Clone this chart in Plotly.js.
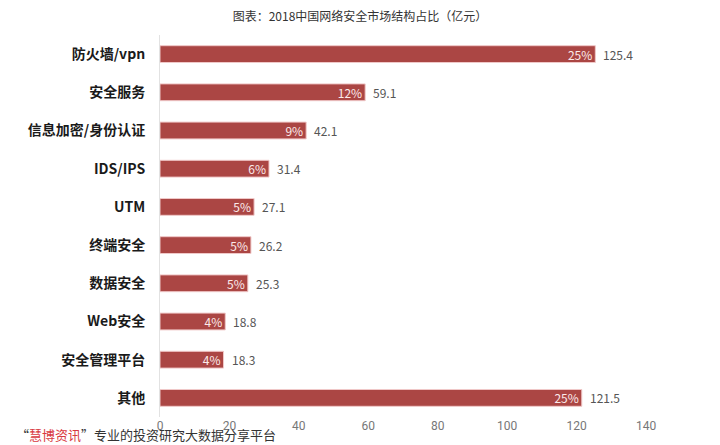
<!DOCTYPE html>
<html>
<head>
<meta charset="utf-8">
<script src="https://cdn.plot.ly/plotly-3.0.1.min.js"></script>
<style>
  html, body { margin: 0; padding: 0; background: #fff; }
  #chart { width: 720px; height: 445px; }
</style>
</head>
<body>
<div id="chart"></div>
<script>
/* data, top to bottom */
const categories = ['防火墙/vpn', '安全服务', '信息加密/身份认证', 'IDS/IPS', 'UTM',
                    '终端安全', '数据安全', 'Web安全', '安全管理平台', '其他'];
const values = [125.4, 59.1, 42.1, 31.4, 27.1, 26.2, 25.3, 18.8, 18.3, 121.5];
const shares = ['25%', '12%', '9%', '6%', '5%', '5%', '5%', '4%', '4%', '25%'];
const xTicks = [0, 20, 40, 60, 80, 100, 120, 140];

const CJK = '"Noto Sans CJK SC", "Noto Sans", sans-serif';

const bars = {
    type: 'bar',
    orientation: 'h',
    y: categories,
    x: values,
    text: shares,
    textposition: 'inside',
    insidetextanchor: 'end',
    constraintext: 'none',
    insidetextfont: {family: CJK, size: 12, color: '#fbeaea'},
    marker: {color: '#ab4644', line: {color: '#f0c8c8', width: 1}},
    hoverinfo: 'none',
    showlegend: false
};

/* value labels just right of each bar, placed on the data axes */
const valueNotes = values.map((v, i) => ({
    x: v, y: categories[i],
    xref: 'x', yref: 'y',
    xanchor: 'left', yanchor: 'middle',
    xshift: 6,
    showarrow: false,
    text: v.toFixed(1),
    font: {family: CJK, size: 12, color: '#555'}
}));

const layout = {
    width: 720,
    height: 445,
    margin: {l: 160, r: 74, t: 35, b: 28},
    paper_bgcolor: '#fff',
    plot_bgcolor: '#fff',
    bargap: 0.56,
    title: {
        text: '图表：2018中国网络安全市场结构占比（亿元）',
        font: {family: CJK, size: 12, color: '#333'},
        x: 0.5, xanchor: 'center',
        y: 0.972, yanchor: 'top'
    },
    xaxis: {
        range: [0, 140],
        tickvals: xTicks,
        showgrid: false,
        zeroline: false,
        showline: false,
        tickfont: {family: 'Roboto, sans-serif', size: 12, color: '#777'},
        ticks: '',
        fixedrange: true
    },
    yaxis: {
        autorange: 'reversed',
        showgrid: false,
        zeroline: false,
        showline: true,
        linecolor: '#e2e2e2',
        linewidth: 1,
        ticks: 'outside',
        ticklen: 11,
        tickcolor: 'rgba(0,0,0,0)',
        tickfont: {family: CJK, size: 14, color: '#1a1a1a', weight: 'bold'},
        fixedrange: true
    },
    annotations: valueNotes.concat([{
        xref: 'paper', yref: 'paper',
        x: -0.3, y: -0.045,
        xanchor: 'left', yanchor: 'middle',
        showarrow: false,
        text: '“<span style="color:#d8393f">慧博资讯</span>”专业的投资研究大数据分享平台',
        font: {family: CJK, size: 13, color: '#333'}
    }])
};

Plotly.newPlot('chart', [bars], layout, {displayModeBar: false, staticPlot: true});
</script>
</body>
</html>
